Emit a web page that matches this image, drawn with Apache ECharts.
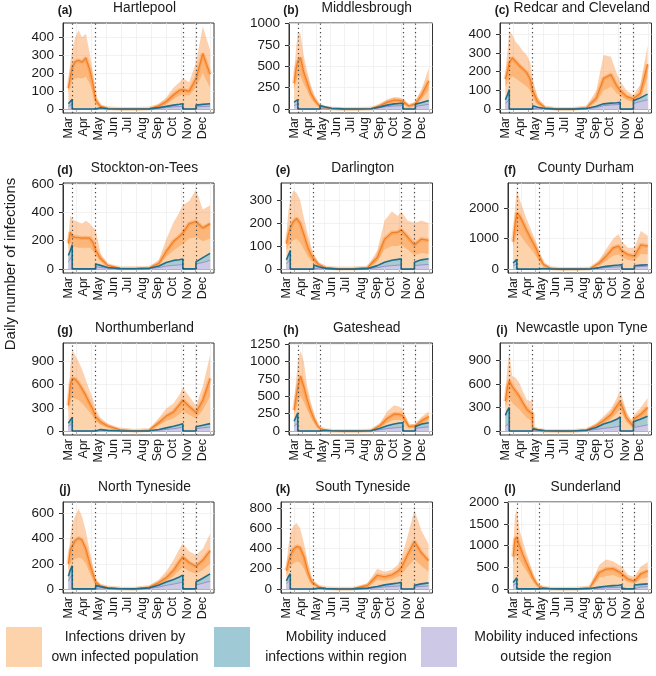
<!DOCTYPE html>
<html><head><meta charset="utf-8">
<script src="https://cdn.jsdelivr.net/npm/echarts/dist/echarts.min.js"></script>
<style>html,body{margin:0;padding:0;background:#fff}#c{width:656px;height:676px}</style>
</head><body><div id="c"></div>
<script>
// ---- time grid: days since 1 March 2020 (duplicated days = steps at lockdown boundaries)
const DAYS = [14,18,22,22,28,35,42,50,58,65,70,70,80,95,120,150,180,200,215,230,242,249,249,262,276,276,290,305];
const LOCKDOWN_DAYS = [22, 70, 249, 276];
const MONTH_STARTS = [31,61,92,122,153,184,214,245,275,306];
const MONTH_MIDS = [14,45,75,106,136,167,198,228,259,289];
const MONTH_LABELS = ['Mar','Apr','May','Jun','Jul','Aug','Sep','Oct','Nov','Dec'];
const REGIONS = ['Hartlepool','Middlesbrough','Redcar and Cleveland','Stockton-on-Tees','Darlington','County Durham','Northumberland','Gateshead','Newcastle upon Tyne','North Tyneside','South Tyneside','Sunderland'];
const TAGS = ['(a)','(b)','(c)','(d)','(e)','(f)','(g)','(h)','(i)','(j)','(k)','(l)'];
const Y_MIN = [-22,-47,-21,-29,-17,-128,-52,-57,-50,-33,-40,-95];
const Y_MAX = [480,1007,461,607,373,2830,1138,1264,1121,693,858,2010];
const Y_TICKS = [[0,100,200,300,400],[0,250,500,750,1000],[0,100,200,300,400],[0,200,400,600],[0,100,200,300],[0,1000,2000],[0,300,600,900],[0,250,500,750,1000,1250],[0,300,600,900],[0,200,400,600],[0,200,400,600,800],[0,500,1000,1500,2000]];

// (a) Hartlepool
const own_a = [116,180,235,235,265,272,262,285,220,135,50,50,15,4,1,1,3,18,42,80,105,108,108,100,170,170,310,195];
const hi_a = [150,260,330,330,400,440,400,420,310,190,75,75,25,8,2,2,5,30,65,120,150,170,170,150,260,260,460,330];
const lo_a = [95,130,160,160,170,175,170,180,140,85,30,30,8,2,0,0,1,10,28,55,75,80,80,75,120,120,200,120];
const blue_a = [30,40,55,0,0,0,0,0,0,0,0,10,7,2,0,0,1,8,15,22,27,30,0,0,0,22,26,30];
const purple_a = [15,20,25,0,0,0,0,0,0,0,0,5,3,1,0,0,0,4,8,12,14,15,0,0,0,12,14,16];
// (b) Middlesbrough
const own_b = [300,470,560,560,600,430,320,190,110,60,35,35,18,5,1,1,5,40,80,105,100,90,90,35,60,70,170,330];
const hi_b = [400,700,900,900,880,620,450,280,160,90,50,50,25,8,2,2,8,60,110,140,135,120,120,50,85,95,240,480];
const lo_b = [220,330,380,380,380,290,220,130,75,40,22,22,12,3,0,0,3,28,55,75,72,65,65,25,42,50,120,220];
const blue_b = [80,95,110,0,0,0,0,0,0,0,0,40,25,8,1,0,3,25,45,60,65,68,0,0,0,55,75,100];
const purple_b = [40,50,55,0,0,0,0,0,0,0,0,20,12,4,0,0,2,15,28,35,38,40,0,0,0,30,42,55];
// (c) Redcar and Cleveland
const own_c = [160,200,250,250,275,255,235,215,195,160,100,100,40,8,1,1,8,60,165,185,125,100,100,68,55,55,85,240];
const hi_c = [200,300,420,420,400,360,340,310,290,250,160,160,65,14,2,2,14,100,290,280,190,150,150,100,75,75,130,340];
const lo_c = [120,140,160,160,175,165,150,135,120,100,60,60,25,5,0,0,5,38,100,120,85,70,70,48,38,38,60,170];
const blue_c = [50,75,105,0,0,0,0,0,0,0,0,18,10,3,0,0,3,15,28,32,34,36,0,0,0,45,60,80];
const purple_c = [30,40,50,0,0,0,0,0,0,0,0,8,5,1,0,0,1,8,18,22,24,25,0,0,0,30,40,50];
// (d) Stockton-on-Tees
const own_d = [180,260,230,230,225,222,218,220,218,185,135,135,75,25,5,4,8,40,125,195,230,255,255,320,335,335,290,320];
const hi_d = [230,380,350,350,340,330,320,340,320,290,280,280,110,35,8,6,12,65,210,330,400,450,450,480,560,560,420,450];
const lo_d = [140,190,160,160,155,150,150,150,150,125,95,95,55,18,3,2,5,28,85,130,160,175,175,215,225,225,195,215];
const blue_d = [95,130,170,0,0,0,0,0,0,0,0,35,25,10,2,1,4,20,45,60,65,70,0,0,0,50,80,110];
const purple_d = [50,70,90,0,0,0,0,0,0,0,0,15,10,4,1,0,2,10,20,25,28,30,0,0,0,35,45,60];
// (e) Darlington
const own_e = [110,150,180,180,205,220,200,150,95,60,45,45,20,6,2,2,7,50,130,158,160,170,170,140,105,105,130,125];
const hi_e = [150,250,300,300,340,330,300,220,150,95,65,65,30,10,3,3,10,80,210,250,230,250,250,210,200,200,210,200];
const lo_e = [80,100,110,110,125,130,115,85,55,35,28,28,12,4,1,1,4,32,85,100,100,105,105,85,60,60,70,65];
const blue_e = [40,60,80,0,0,0,0,0,0,0,0,18,10,3,0,0,2,15,30,38,42,45,0,0,0,30,40,45];
const purple_e = [22,30,40,0,0,0,0,0,0,0,0,6,4,1,0,0,1,6,12,15,17,18,0,0,0,15,18,20];
// (f) County Durham
const own_f = [900,1450,1850,1850,1750,1550,1320,1080,850,640,430,430,150,30,5,5,20,200,430,700,760,600,600,480,430,430,800,760];
const hi_f = [1100,2000,2650,2650,2300,2000,1700,1400,1100,850,600,600,220,45,8,8,30,300,650,1000,1150,900,900,700,700,700,1250,1100];
const lo_f = [700,1000,1200,1200,1150,1000,850,700,550,400,270,270,95,18,2,3,12,130,270,440,480,380,380,300,270,270,500,480];
const blue_f = [200,260,320,0,0,0,0,0,0,0,0,30,20,6,0,0,5,50,90,120,135,145,0,0,0,110,130,145];
const purple_f = [100,140,180,0,0,0,0,0,0,0,0,10,6,2,0,0,2,25,50,65,72,75,0,0,0,70,85,95];
// (g) Northumberland
const own_g = [330,600,680,680,670,620,550,460,360,270,185,185,120,65,18,3,12,110,195,250,340,400,400,320,240,240,400,680];
const hi_g = [420,850,1050,1050,980,900,800,660,520,400,280,280,170,90,25,5,18,170,290,360,470,560,560,450,330,330,580,980];
const lo_g = [250,400,430,430,420,400,360,300,240,180,125,125,80,45,12,2,7,75,130,165,220,260,260,210,160,160,270,450];
const blue_g = [100,140,175,0,0,0,0,0,0,0,0,25,18,8,2,0,2,20,40,60,80,95,0,0,0,55,75,95];
const purple_g = [60,80,100,0,0,0,0,0,0,0,0,10,7,3,1,0,1,10,20,30,40,48,0,0,0,30,40,50];
// (h) Gateshead
const own_h = [300,480,640,640,790,640,460,290,160,75,40,40,15,4,1,1,8,80,180,245,240,220,220,65,75,75,150,210];
const hi_h = [380,700,1000,1000,1150,1000,650,420,230,110,55,55,22,6,2,2,12,120,280,370,350,310,310,95,100,100,210,280];
const lo_h = [230,330,420,420,500,420,310,200,110,50,28,28,10,2,0,0,5,55,120,160,160,150,150,45,55,55,100,140];
const blue_h = [140,200,260,0,0,0,0,0,0,0,0,25,12,3,0,0,4,40,75,100,115,120,0,0,0,65,100,120];
const purple_h = [70,90,110,0,0,0,0,0,0,0,0,12,6,1,0,0,2,18,35,45,52,55,0,0,0,40,50,60];
// (i) Newcastle upon Tyne
const own_i = [380,560,640,640,570,510,450,360,280,240,220,40,18,5,2,2,15,70,135,210,320,380,380,170,60,150,210,300];
const hi_i = [480,800,1000,1000,700,680,620,500,400,380,420,60,28,8,3,3,22,100,190,280,420,520,520,240,100,200,290,420];
const lo_i = [300,380,420,420,360,320,280,220,170,140,120,25,12,3,1,1,10,50,95,150,230,270,270,120,40,110,150,200];
const blue_i = [200,260,300,0,0,0,0,0,0,0,0,30,15,4,1,1,10,45,90,120,150,180,0,0,0,120,150,190];
const purple_i = [60,80,100,0,0,0,0,0,0,0,0,10,5,1,0,0,4,20,35,45,55,65,0,0,0,45,60,80];
// (j) North Tyneside
const own_j = [200,310,345,345,385,405,390,320,200,115,55,55,25,10,3,1,15,50,90,150,220,255,255,210,180,180,230,305];
const hi_j = [260,420,520,520,580,640,580,460,300,170,80,80,35,14,4,2,22,75,140,230,320,360,360,300,270,270,320,440];
const lo_j = [150,200,220,220,240,250,240,200,125,75,35,35,16,6,2,0,10,32,60,100,150,170,170,140,120,120,150,200];
const blue_j = [100,150,185,0,0,0,0,0,0,0,0,28,18,6,1,0,8,30,55,75,95,110,0,0,0,55,85,120];
const purple_j = [60,90,110,0,0,0,0,0,0,0,0,12,8,3,0,0,4,15,28,38,48,55,0,0,0,30,45,60];
// (k) South Tyneside
const own_k = [180,260,330,330,390,420,410,320,170,80,55,55,22,6,2,3,35,135,120,140,175,210,210,340,470,470,360,280];
const hi_k = [240,420,550,550,620,650,600,450,260,120,80,80,32,9,3,5,55,200,170,190,240,300,300,520,780,780,580,440];
const lo_k = [130,180,220,220,250,270,260,200,110,50,35,35,14,4,1,2,22,85,80,95,120,140,140,220,290,290,230,170];
const blue_k = [80,120,150,0,0,0,0,0,0,0,0,15,10,3,0,1,8,25,40,50,58,65,0,0,0,35,50,60];
const purple_k = [50,70,90,0,0,0,0,0,0,0,0,6,4,1,0,0,4,12,20,25,28,30,0,0,0,20,25,30];
// (l) Sunderland
const own_l = [750,1150,1200,1200,1000,800,620,430,240,120,65,65,25,6,2,2,35,380,460,470,400,350,350,230,180,180,350,420];
const hi_l = [900,1700,1850,1850,1350,1100,850,600,340,170,90,90,35,9,3,3,55,550,680,640,560,520,520,330,280,280,520,620];
const lo_l = [550,750,780,780,660,540,420,290,160,80,42,42,16,4,1,1,22,250,300,320,270,240,240,160,120,120,230,270];
const blue_l = [150,200,260,0,0,0,0,0,0,0,0,30,15,4,1,1,8,40,60,75,85,95,0,0,0,90,105,115];
const purple_l = [80,110,140,0,0,0,0,0,0,0,0,10,5,1,0,0,3,15,25,32,36,40,0,0,0,38,45,50];

const OWN = [own_a,own_b,own_c,own_d,own_e,own_f,own_g,own_h,own_i,own_j,own_k,own_l];
const HI = [hi_a,hi_b,hi_c,hi_d,hi_e,hi_f,hi_g,hi_h,hi_i,hi_j,hi_k,hi_l];
const LO = [lo_a,lo_b,lo_c,lo_d,lo_e,lo_f,lo_g,lo_h,lo_i,lo_j,lo_k,lo_l];
const BLUE = [blue_a,blue_b,blue_c,blue_d,blue_e,blue_f,blue_g,blue_h,blue_i,blue_j,blue_k,blue_l];
const PURPLE = [purple_a,purple_b,purple_c,purple_d,purple_e,purple_f,purple_g,purple_h,purple_i,purple_j,purple_k,purple_l];
const LEGEND_TEXT = ['Infections driven by\nown infected population','Mobility induced\ninfections within region','Mobility induced infections\noutside the region'];

// ---- layout / style
const FONT = '"Liberation Sans", Arial, Helvetica, sans-serif';
const PEACH = '#fdd3ac', TEALFILL = '#9fcad5', LAVENDER = '#cdc8e6';
const ORANGE = '#f57d1f', TEAL = '#1f6e8c', PURPLE_LINE = '#8e84c2';
const LEFTS = [[63,289,500],[63,281,508],[63,289,500],[63,281,508]];
const RIGHTS = [214,432.5,651.5];
const TOPS = [23,183,343,502];
const BOTTOMS = [113,273,435,593];

const grids = [], xAxes = [], yAxes = [], series = [], graphics = [];
const pts = arr => DAYS.map((d, k) => [d, arr[k]]);

function band(i, lo, hi, color) {
  return {
    type: 'custom', xAxisIndex: i, yAxisIndex: i, silent: true, clip: true, z: 2,
    data: DAYS.map((d, k) => [d, lo[k], hi[k]]),
    encode: { x: 0, y: [1, 2] },
    renderItem: function (params, api) {
      if (params.dataIndex !== 0) return null;
      const p = [];
      for (let k = 0; k < DAYS.length; k++) p.push(api.coord([DAYS[k], hi[k]]));
      for (let k = DAYS.length - 1; k >= 0; k--) p.push(api.coord([DAYS[k], lo[k]]));
      return { type: 'polygon', shape: { points: p }, style: { fill: color } };
    }
  };
}

for (let i = 0; i < 12; i++) {
  const r = Math.floor(i / 3), c = i % 3;
  const L = LEFTS[r][c], R = RIGHTS[c], T = TOPS[r], B = BOTTOMS[r];
  grids.push({ left: L, top: T, width: R - L, height: B - T, show: true, borderColor: '#333', borderWidth: 1,
    backgroundColor: 'rgba(0,0,0,0)', containLabel: false, outerBoundsMode: 'none' });
  xAxes.push({ type: 'value', gridIndex: i, min: 3, max: 313,
    axisLine: { show: true, lineStyle: { color: '#333', width: 1 } },
    axisTick: { show: true, customValues: MONTH_STARTS, length: 4, lineStyle: { color: '#333', width: 1 } },
    axisLabel: { show: true, customValues: MONTH_MIDS, rotate: 90, margin: 4, fontSize: 12.5, color: '#1a1a1a', fontFamily: FONT,
      formatter: v => MONTH_LABELS[MONTH_MIDS.indexOf(v)] || '' },
    splitLine: { show: false } });
  yAxes.push({ type: 'value', gridIndex: i, min: Y_MIN[i], max: Y_MAX[i],
    axisLine: { show: true, lineStyle: { color: '#333', width: 1 } },
    axisTick: { show: true, customValues: Y_TICKS[i], length: 4, lineStyle: { color: '#333', width: 1 } },
    axisLabel: { show: true, customValues: Y_TICKS[i], margin: 9, fontSize: 13.5, color: '#1a1a1a', fontFamily: FONT,
      formatter: v => String(v) },
    splitLine: { show: false } });

  const gridData = MONTH_STARTS.map(v => ({ xAxis: v })).concat(Y_TICKS[i].map(v => ({ yAxis: v })));
  series.push({ type: 'line', xAxisIndex: i, yAxisIndex: i, data: pts(OWN[i]), symbol: 'none', silent: true, z: 2,
    lineStyle: { width: 0 }, areaStyle: { color: PEACH, opacity: 1 },
    markLine: { silent: true, symbol: ['none', 'none'], label: { show: false }, z: 1, animation: false,
      lineStyle: { color: '#ececec', width: 0.7, type: 'solid' }, emphasis: { disabled: true }, data: gridData } });
  series.push({ type: 'line', xAxisIndex: i, yAxisIndex: i, data: pts(BLUE[i]), symbol: 'none', silent: true, z: 2,
    lineStyle: { width: 0 }, areaStyle: { color: TEALFILL, opacity: 0.9 } });
  series.push({ type: 'line', xAxisIndex: i, yAxisIndex: i, data: pts(PURPLE[i]), symbol: 'none', silent: true, z: 2,
    lineStyle: { width: 0.8, color: PURPLE_LINE }, areaStyle: { color: LAVENDER, opacity: 1 } });
  series.push(band(i, LO[i], HI[i], 'rgba(250,135,40,0.38)'));
  series.push({ type: 'line', xAxisIndex: i, yAxisIndex: i, data: pts(OWN[i]), symbol: 'none', silent: true, z: 2,
    lineStyle: { width: 4, color: 'rgba(245,125,30,0.3)' } });
  series.push({ type: 'line', xAxisIndex: i, yAxisIndex: i, data: pts(OWN[i]), symbol: 'none', silent: true, z: 2,
    lineStyle: { width: 1.2, color: ORANGE },
    markLine: { silent: true, symbol: ['none', 'none'], label: { show: false }, z: 6, animation: false,
      lineStyle: { color: '#444', width: 1.2, type: [1.2, 3] }, emphasis: { disabled: true },
      data: LOCKDOWN_DAYS.map(v => ({ xAxis: v })) } });
  series.push({ type: 'line', xAxisIndex: i, yAxisIndex: i, data: pts(BLUE[i]), symbol: 'none', silent: true, z: 3,
    lineStyle: { width: 1.6, color: TEAL } });

  graphics.push({ type: 'text', x: (L + R) / 2 + 6, y: T - 22, silent: true,
    style: { text: REGIONS[i], font: '13.8px ' + FONT, fill: '#1a1a1a', align: 'center', verticalAlign: 'top' } });
  graphics.push({ type: 'text', x: L + 2, y: T - 18.5, silent: true,
    style: { text: TAGS[i], font: 'bold 12px ' + FONT, fill: '#1a1a1a', align: 'center', verticalAlign: 'top' } });
}

graphics.push({ type: 'text', x: 11, y: 264, rotation: Math.PI / 2, silent: true,
  style: { text: 'Daily number of infections', font: '15px ' + FONT, fill: '#1a1a1a', align: 'center', verticalAlign: 'middle' } });

const LEG_SW = [[6, PEACH], [214, TEALFILL], [421, LAVENDER]];
const LEG_TX = [125, 336, 556];
for (let k = 0; k < 3; k++) {
  graphics.push({ type: 'rect', x: LEG_SW[k][0], y: 627, shape: { width: 36, height: 40 }, silent: true, style: { fill: LEG_SW[k][1] } });
  graphics.push({ type: 'text', x: LEG_TX[k], y: 647, silent: true,
    style: { text: LEGEND_TEXT[k], font: '14px ' + FONT, fill: '#1a1a1a', align: 'center', verticalAlign: 'middle', lineHeight: 20 } });
}

const chart = echarts.init(document.getElementById('c'), null, { renderer: 'canvas' });
chart.setOption({
  animation: false,
  backgroundColor: '#ffffff',
  grid: grids, xAxis: xAxes, yAxis: yAxes, series: series, graphic: graphics
});
</script>
</body></html>
